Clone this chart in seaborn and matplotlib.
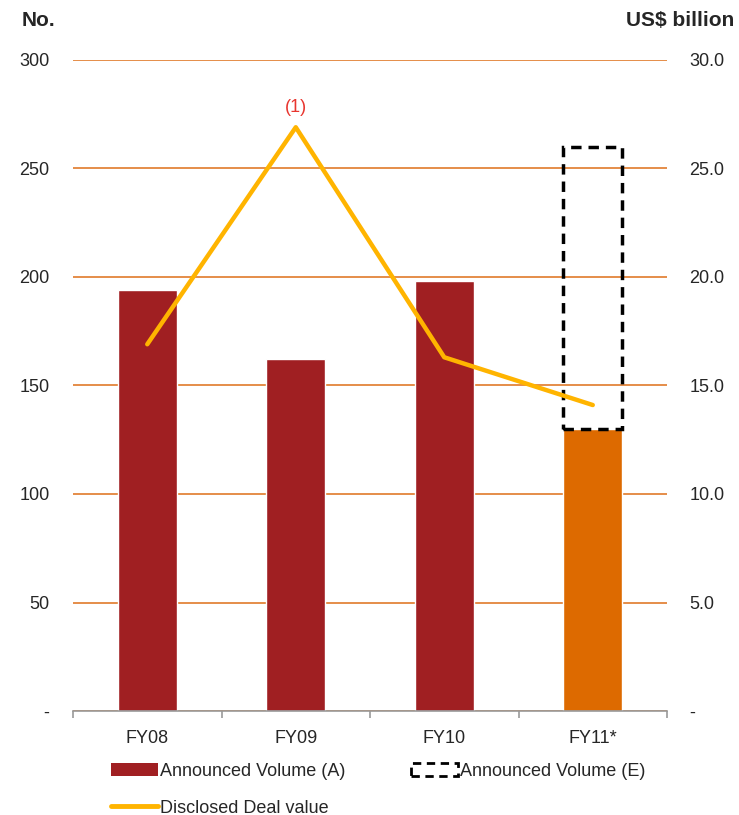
import numpy as np
import seaborn as sns
import matplotlib.pyplot as plt
from matplotlib.patches import Patch
from matplotlib.lines import Line2D
from matplotlib.ticker import FixedLocator

# 数据
years = ['FY08', 'FY09', 'FY10', 'FY11*']
volume = [194, 162, 198, 130]          # No. (left axis)
est_volume_top = 260                   # FY11 estimated volume (dashed box top)
deal_value = [16.9, 26.9, 16.3, 14.1]  # US$ billion (right axis)
left_ticks = [0, 50, 100, 150, 200, 250, 300]
right_ticks = [0, 5, 10, 15, 20, 25, 30]

bar_colors = ['#A01F22', '#A01F22', '#A01F22', '#DD6A00']
line_color = '#FFB400'
grid_color = '#E07A2A'
fs = 13

sns.set_theme(style='white')
plt.rcParams['font.family'] = ['Liberation Sans', 'DejaVu Sans']

fig = plt.figure(figsize=(7.39, 8.15), dpi=100)
ax = fig.add_axes([0.0988, 0.1276, 0.8038, 0.7988])

# 柱状图
sns.barplot(x=years, y=volume, hue=years, palette=bar_colors, width=0.4,
            saturation=1, legend=False, ax=ax, zorder=2)

# FY11 预计值（虚线框）
ax.bar(len(years) - 1, est_volume_top - volume[-1], bottom=volume[-1], width=0.4,
       fill=False, edgecolor='black', linestyle=(0, (3, 2)), linewidth=2.5, zorder=3)

ax.set_xlim(-0.5, len(years) - 0.5)
ax.set_ylim(0, 300)
ax.yaxis.set_major_locator(FixedLocator(left_ticks))
ax.set_yticklabels(['-' if t == 0 else str(t) for t in left_ticks])
ax.tick_params(axis='y', length=0, pad=17, labelsize=fs)
ax.tick_params(axis='x', which='major', length=0, pad=14, labelsize=fs)
ax.xaxis.set_minor_locator(FixedLocator(np.arange(-0.5, len(years), 1)))
ax.tick_params(axis='x', which='minor', length=5, width=1.2, color='#999999', direction='out', bottom=True)
ax.set_xlabel('')
ax.set_ylabel('')

# 网格线
ax.set_axisbelow(True)
ax.yaxis.grid(True, color=grid_color, linewidth=1.2)
ax.xaxis.grid(False)
for side in ['left', 'right', 'top']:
    ax.spines[side].set_visible(False)
ax.spines['bottom'].set_color('#999999')
ax.spines['bottom'].set_linewidth(1.2)
ax.spines['bottom'].set_zorder(4)

# 折线图（右轴）
ax2 = ax.twinx()
sns.lineplot(x=np.arange(len(years)), y=deal_value, color=line_color, linewidth=3.2,
             sort=False, ax=ax2, zorder=5)
ax2.set_ylim(0, 30)
ax2.yaxis.set_major_locator(FixedLocator(right_ticks))
ax2.set_yticklabels(['-' if t == 0 else f'{t:.1f}' for t in right_ticks])
ax2.tick_params(axis='y', length=0, pad=16, labelsize=fs)
for side in ['left', 'right', 'top', 'bottom']:
    ax2.spines[side].set_visible(False)
ax2.grid(False)

ax2.annotate('(1)', xy=(1, deal_value[1]), xytext=(0, 14), textcoords='offset points',
             ha='center', va='center', color='#E8352F', fontsize=fs)

# 轴标题
fig.text(22 / 739, 1 - 20 / 815, 'No.', fontsize=15, fontweight='bold', va='center', ha='left')
fig.text(734 / 739, 1 - 20 / 815, 'US$ billion', fontsize=15, fontweight='bold', va='center', ha='right')

# 图例
handles = [
    Patch(facecolor='#A01F22', edgecolor='none'),
    Line2D([0], [0], color=line_color, linewidth=3.5),
    Patch(facecolor='none', edgecolor='black', linestyle=(0, (3, 2)), linewidth=2),
]
labels = ['Announced Volume (A)', 'Disclosed Deal value', 'Announced Volume (E)']
fig.legend(handles, labels, ncol=2, loc='upper left', bbox_to_anchor=(0.14, 0.073),
           frameon=False, fontsize=fs, handlelength=2.6, handleheight=0.7,
           handletextpad=0.15, columnspacing=3.6, labelspacing=1.1, borderaxespad=0)

fig.savefig('out.png', dpi=100)
